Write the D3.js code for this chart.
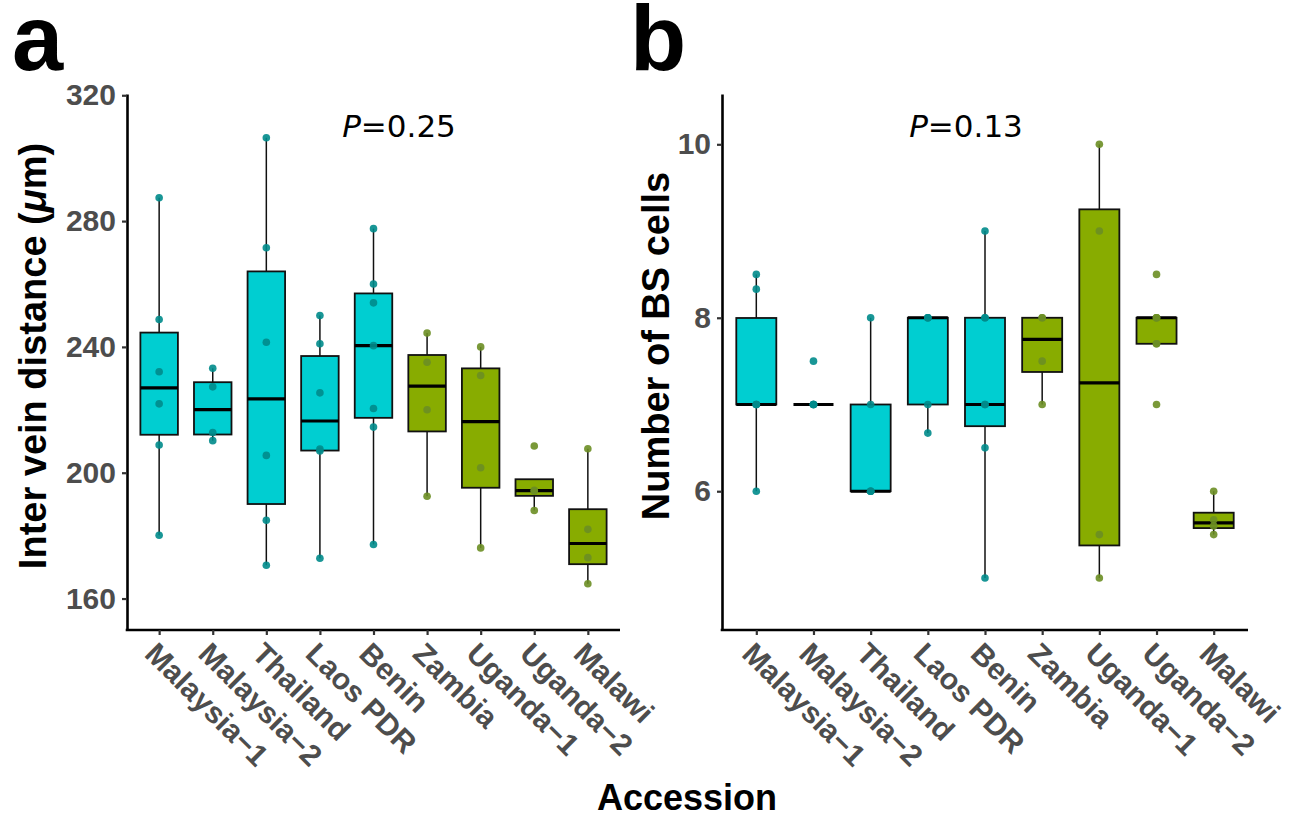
<!DOCTYPE html>
<html>
<head>
<meta charset="utf-8">
<script src="https://cdn.jsdelivr.net/npm/d3@7"></script>
<style>
  body { margin: 0; background: #fff; }
  svg text { font-family: "Liberation Sans", Arial, sans-serif; }
</style>
</head>
<body>
<svg id="chart" width="1300" height="820"></svg>
<script>
// accessions, in plotting order
const accessions = ["Malaysia-1", "Malaysia-2", "Thailand", "Laos PDR", "Benin",
                    "Zambia", "Uganda-1", "Uganda-2", "Malawi"];
// colour group of each accession (first five cyan, the rest green)
const accessionGroup = [0, 0, 0, 0, 0, 1, 1, 1, 1];

// panel a : inter vein distance (um), one list per accession
const veinDistance = [
  [180.1, 208.8, 221.9, 232.1, 248.7, 287.4],
  [210.2, 212.8, 227.3, 233.2],
  [170.6, 184.9, 205.5, 241.5, 271.5, 306.5],
  [172.8, 206.9, 207.5, 225.4, 241.0, 250.0],
  [177.2, 214.5, 220.4, 240.4, 254.0, 260.0, 277.6],
  [192.5, 220.0, 235.1, 244.4],
  [176.1, 201.6, 230.9, 240.0],
  [188.0, 194.2, 194.4, 208.5],
  [164.7, 173.0, 182.0, 207.6]
];
const veinTicks = [160, 200, 240, 280, 320];

// panel b : number of bundle sheath cells
const bsCells = [
  [6, 7, 7, 7, 8.33, 8.5],
  [7, 7, 7, 7, 7.5],
  [6, 6, 6, 7, 8],
  [6.67, 7, 8, 8, 8],
  [5, 6.5, 7, 7, 8, 8, 9],
  [7, 7.5, 8, 8],
  [5, 5.5, 9, 10],
  [7, 7.7, 7.7, 8, 8, 8, 8.5],
  [5.5, 5.6, 5.67, 6]
];
const bsTicks = [6, 8, 10];

const pValues = ["0.25", "0.13"];

const boxFill = ["#00CED1", "#88AC00"];
const dotFill = ["#008B8B", "#6B8E23"];

const svg = d3.select("#chart");

function boxStats(vals){
  let v = vals.slice().sort(d3.ascending);
  let q1 = d3.quantile(v, 0.25), med = d3.quantile(v, 0.5), q3 = d3.quantile(v, 0.75);
  let iqr = q3 - q1;
  let inside = v.filter(d => d >= q1 - 1.5 * iqr && d <= q3 + 1.5 * iqr);
  return { q1: q1, med: med, q3: q3, lo: d3.min(inside), hi: d3.max(inside) };
}

function drawPanel(opt){
  let g = svg.append("g");
  let x = d3.scalePoint().domain(accessions).range([opt.left, opt.right]).padding(0.6);
  let y = d3.scaleLinear().domain(opt.domain).range([630, 94]);
  let bw = x.step() * 0.7;

  // whiskers, boxes, medians
  accessions.forEach(function(acc, i){
    let s = boxStats(opt.data[i]);
    let cx = x(acc);
    g.append("line").attr("x1", cx).attr("x2", cx)
      .attr("y1", y(s.hi)).attr("y2", y(s.q3))
      .attr("stroke", "#111").attr("stroke-width", 1.5);
    g.append("line").attr("x1", cx).attr("x2", cx)
      .attr("y1", y(s.q1)).attr("y2", y(s.lo))
      .attr("stroke", "#111").attr("stroke-width", 1.5);
    g.append("rect")
      .attr("x", cx - bw / 2).attr("width", bw)
      .attr("y", y(s.q3)).attr("height", Math.max(0, y(s.q1) - y(s.q3)))
      .attr("fill", boxFill[accessionGroup[i]])
      .attr("stroke", "#111").attr("stroke-width", 1.8);
    g.append("line")
      .attr("x1", cx - bw / 2).attr("x2", cx + bw / 2)
      .attr("y1", y(s.med)).attr("y2", y(s.med))
      .attr("stroke", "#000").attr("stroke-width", 3.2);
  });

  // points
  accessions.forEach(function(acc, i){
    g.selectAll(null).data(opt.data[i]).enter()
      .append("circle")
      .attr("cx", x(acc))
      .attr("cy", d => y(d))
      .attr("r", 3.8)
      .attr("fill", dotFill[accessionGroup[i]])
      .attr("fill-opacity", 0.9);
  });

  // y axis
  let yAxis = g.append("g")
    .attr("transform", "translate(" + opt.left + ",0)")
    .call(d3.axisLeft(y).tickValues(opt.ticks).tickFormat(d3.format("d"))
      .tickSize(5).tickPadding(6).tickSizeOuter(0));
  yAxis.select(".domain").attr("stroke", "#000").attr("stroke-width", 2.6);
  yAxis.selectAll(".tick line").attr("stroke", "#333").attr("stroke-width", 2.2);
  yAxis.selectAll(".tick text")
    .attr("fill", "#4D4D4D").style("font-size", "30px").style("font-weight", "bold");

  // x axis
  let xAxis = g.append("g")
    .attr("transform", "translate(0,630)")
    .call(d3.axisBottom(x).tickSize(5).tickSizeOuter(0).tickFormat(d => d.replace("-", "\u2212")));
  xAxis.select(".domain").attr("stroke", "#000").attr("stroke-width", 2.6)
    .attr("d", "M" + (opt.left - 1.3) + ",0H" + opt.right);
  xAxis.selectAll(".tick line").attr("stroke", "#333").attr("stroke-width", 2.2);
  xAxis.selectAll(".tick text")
    .attr("fill", "#4D4D4D").style("font-size", "30px").style("font-weight", "bold")
    .attr("text-anchor", "start")
    .attr("y", 0).attr("dy", "0.35em")
    .attr("transform", "translate(-9,18) rotate(45)");

  // y title
  let title = g.append("text")
    .attr("transform", "translate(" + opt.titleX + "," + opt.titleY + ") rotate(-90)")
    .attr("text-anchor", "middle")
    .style("font-size", "38px").style("font-weight", "bold").attr("fill", "#000");
  opt.title(title);

  // p value
  let p = g.append("text")
    .attr("x", opt.pX).attr("y", 137)
    .attr("text-anchor", "middle")
    .style("font-family", "'DejaVu Sans', sans-serif").style("font-size", "31px");
  p.append("tspan").style("font-style", "italic").text("P");
  p.append("tspan").text("=" + opt.p);

  // panel letter
  g.append("text").attr("x", opt.letterX).attr("y", 70)
    .style("font-size", "92px").style("font-weight", "bold").text(opt.letter);
}

drawPanel({
  left: 127, right: 620, domain: [150, 320.4], data: veinDistance, ticks: veinTicks,
  titleX: 46, titleY: 356, pX: 399, p: pValues[0], letter: "a", letterX: 12,
  title: function(t){
    t.append("tspan").text("Inter vein distance ");
    t.append("tspan").text("(");
    t.append("tspan").style("font-style", "italic").text("\u03bc");
    t.append("tspan").text("m)");
  }
});

drawPanel({
  left: 722, right: 1248, domain: [4.40, 10.58], data: bsCells, ticks: bsTicks,
  titleX: 669, titleY: 346, pX: 966, p: pValues[1], letter: "b", letterX: 630,
  title: function(t){ t.text("Number of BS cells"); }
});

svg.append("text")
  .attr("x", 687).attr("y", 810)
  .attr("text-anchor", "middle")
  .style("font-size", "36px").style("font-weight", "bold")
  .text("Accession");
</script>
</body>
</html>
